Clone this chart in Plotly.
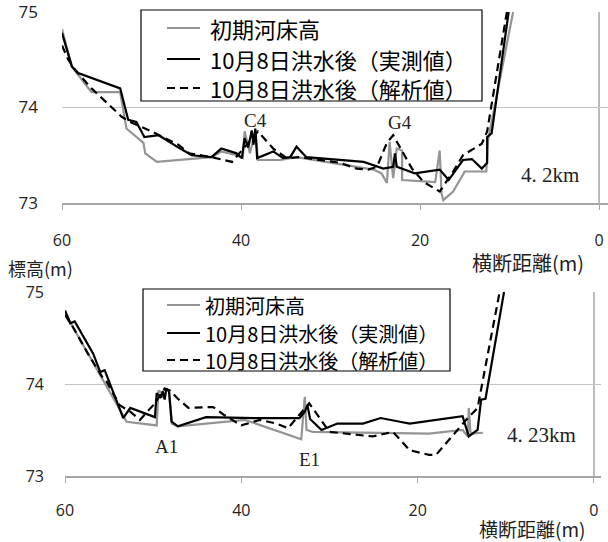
import plotly.graph_objects as go

W, H = 608, 542

# ---- series names ----
names = ["初期河床高", "10月8日洪水後（実測値）", "10月8日洪水後（解析値）"]

# ---- 4.2 km cross section ----
x42_init = [60, 58.9, 57.2, 56.7, 53.5, 52.8, 50.9, 50.7, 49.4, 43.3, 42.2, 40.5, 39.8,
            39.6, 39.0, 38.4, 38.1, 35.6, 33.8, 25.2, 24.3, 23.7, 23.4, 23.0, 22.6, 22.0,
            22.0, 18.3, 17.8, 17.6, 17.4, 16.3, 15.0, 12.6, 12.4, 9.6]
y42_init = [74.82, 74.43, 74.22, 74.16, 74.16, 73.78, 73.63, 73.52, 73.43, 73.48, 73.54, 73.50, 73.47,
            73.75, 73.52, 73.76, 73.45, 73.45, 73.48, 73.35, 73.31, 73.21, 73.64, 73.26, 73.57, 73.55,
            73.24, 73.22, 73.55, 73.10, 73.03, 73.12, 73.33, 73.33, 73.66, 75.0]

x42_meas = [60, 58.9, 58.2, 54.8, 53.5, 52.6, 51.7, 50.8, 49.2, 46.8, 45.5, 43.3, 42.2, 40.5,
            39.9, 39.6, 39.2, 38.8, 38.6, 38.4, 38.2, 36.4, 35.3, 34.5, 33.8, 32.7, 26.3, 24.1,
            23.0, 22.8, 22.6, 20.6, 17.8, 16.8, 15.2, 14.2, 13.1, 12.5, 12.5, 12.0, 10.1]
y42_meas = [74.78, 74.43, 74.36, 74.24, 74.20, 73.87, 73.85, 73.69, 73.71, 73.57, 73.50, 73.48, 73.57, 73.52,
            73.47, 73.68, 73.58, 73.76, 73.61, 73.78, 73.47, 73.54, 73.47, 73.48, 73.59, 73.48, 73.43, 73.36,
            73.38, 73.52, 73.38, 73.31, 73.35, 73.24, 73.45, 73.46, 73.36, 73.42, 73.69, 73.73, 75.0]

x42_calc = [60, 59.3, 58.5, 56.7, 53.3, 52.4, 50.0, 47.0, 45.8, 43.3, 41.0, 38.1, 36.4, 34.9,
            33.4, 28.9, 27.1, 25.8, 24.8, 23.7, 23.0, 21.9, 20.9, 19.6, 17.8, 16.3, 15.2, 13.1,
            12.5, 10.3]
y42_calc = [74.65, 74.50, 74.39, 74.20, 73.90, 73.85, 73.75, 73.61, 73.52, 73.48, 73.43, 73.75, 73.57, 73.47,
            73.48, 73.42, 73.36, 73.35, 73.38, 73.63, 73.71, 73.52, 73.36, 73.22, 73.12, 73.33, 73.50, 73.62,
            73.75, 75.0]

# ---- 4.23 km cross section ----
x423_init = [60, 53.0, 49.6, 49.4, 49.0, 48.7, 48.2, 47.9, 47.2, 39.6, 33.2, 32.8, 32.6, 31.9,
             18.7, 14.9, 14.3, 14.2, 14.0, 12.6]
y423_init = [74.77, 73.59, 73.55, 73.93, 73.90, 73.95, 73.92, 73.57, 73.54, 73.61, 73.40, 73.86, 73.50, 73.48,
             73.46, 73.50, 73.43, 73.74, 73.46, 73.47]

x423_meas = [60, 59.4, 58.9, 56.8, 56.0, 55.5, 54.2, 53.4, 52.6, 49.8, 49.6, 49.1, 48.9, 48.7,
             48.5, 48.2, 47.9, 47.2, 44.0, 38.5, 33.4, 32.8, 32.5, 32.2, 30.9, 29.1, 26.2, 24.2,
             22.0, 20.9, 14.9, 14.2, 13.2, 12.8, 12.3, 10.2]
y423_meas = [74.80, 74.66, 74.68, 74.33, 74.13, 74.15, 73.83, 73.63, 73.74, 73.64, 73.90, 73.85, 73.92, 73.83,
             73.95, 73.92, 73.59, 73.54, 73.64, 73.63, 73.63, 73.70, 73.77, 73.62, 73.50, 73.57, 73.57, 73.63,
             73.59, 73.57, 73.65, 73.43, 73.50, 73.83, 73.84, 75.0]

x423_calc = [60, 59.1, 57.4, 55.8, 55.3, 53.8, 52.6, 51.5, 49.8, 48.7, 48.1, 47.2, 46.0, 43.2,
             41.9, 40.0, 37.9, 36.0, 34.7, 33.6, 32.3, 30.0, 25.1, 22.8, 20.9, 18.7, 17.9, 14.5,
             13.2, 10.7]
y423_calc = [74.75, 74.62, 74.33, 74.08, 74.03, 73.77, 73.70, 73.61, 73.79, 73.95, 73.93, 73.84, 73.74, 73.75,
             73.66, 73.55, 73.61, 73.57, 73.52, 73.64, 73.79, 73.48, 73.43, 73.48, 73.28, 73.23, 73.23, 73.61,
             73.74, 75.0]

# ---- tick labels ----
x_ticks = [60, 40, 20, 0]
y_ticks = [73, 74, 75]

GRAY = "#949494"
BLACK = "#000000"
GRID = "#c4c4c4"
AXIS = "#a6a6a6"
CJK = "Noto Sans CJK JP"
SERIF = "Liberation Serif, DejaVu Serif, serif"
SANS = "Open Sans, DejaVu Sans, sans-serif"

styles = [dict(color=GRAY, width=2.2),
          dict(color=BLACK, width=2.2),
          dict(color=BLACK, width=2.2, dash="8px,5px")]

fig = go.Figure()

panels = [
    ("x", "y", [(x42_init, y42_init), (x42_meas, y42_meas), (x42_calc, y42_calc)]),
    ("x2", "y2", [(x423_init, y423_init), (x423_meas, y423_meas), (x423_calc, y423_calc)]),
]
for xa, ya, series in panels:
    for name, (xs, ys), st in zip(names, series, styles):
        fig.add_trace(go.Scatter(x=xs, y=ys, mode="lines", name=name, line=st,
                                 xaxis=xa, yaxis=ya, showlegend=False))


def px_x(p):
    return p / W


def px_y(p):
    return 1 - p / H


def xaxis_style(size, standoff):
    return dict(tickmode="array", tickvals=x_ticks, ticktext=[str(v) for v in x_ticks],
                showgrid=False, zeroline=False, showline=True, linecolor=AXIS, linewidth=2,
                ticks="outside", ticklen=5, tickcolor=AXIS, tickwidth=1,
                tickfont=dict(family=SANS, size=size, color="#222222"),
                ticklabelstandoff=standoff, ticklabeloverflow="allow", automargin=False)


def yaxis_style(size, standoff):
    return dict(tickmode="array", tickvals=y_ticks, ticktext=[str(v) for v in y_ticks],
                range=[73, 75], showgrid=True, gridcolor=GRID, gridwidth=1,
                zeroline=False, showline=False, ticks="",
                tickfont=dict(family=SANS, size=size, color="#222222"),
                ticklabelstandoff=standoff, ticklabeloverflow="allow", automargin=False)


fig.update_layout(
    width=W, height=H,
    margin=dict(l=0, r=0, t=0, b=0, autoexpand=False),
    paper_bgcolor="white", plot_bgcolor="white",
    showlegend=False,
    xaxis=dict(xaxis_style(16, 17), range=[60, -1.0], domain=[px_x(62), 1.0], anchor="y"),
    yaxis=dict(yaxis_style(17, 23), domain=[px_y(203), px_y(12)], anchor="x"),
    xaxis2=dict(xaxis_style(16, 14), range=[60, -0.8], domain=[px_x(65), px_x(601)], anchor="y2"),
    yaxis2=dict(yaxis_style(16, 20), domain=[px_y(476), px_y(292)], anchor="x2"),
)

# right-hand boundary line at 0 m in each panel
for xr, yr in [("x", "y"), ("x2", "y2")]:
    fig.add_shape(type="line", xref=xr, yref=yr + " domain", x0=0, x1=0, y0=0, y1=1,
                  line=dict(color=AXIS, width=1.5), layer="below")

# legend boxes (one per panel), built from shapes and text
legend_boxes = [
    # box (left, top, right, bottom), row centres, sample x-span, text x, font size
    ((141, 10, 482, 101), [28, 59, 88], (167, 200), 208, 22),
    ((143, 289, 450, 371), [305, 333, 360], (167, 200), 203, 20),
]
for (l, t, r, b), rows, (s0, s1), tx, fs in legend_boxes:
    fig.add_shape(type="rect", xref="paper", yref="paper",
                  x0=px_x(l), x1=px_x(r), y0=px_y(b), y1=px_y(t),
                  line=dict(color="black", width=1.2), fillcolor="white", layer="above")
    for name, st, ry in zip(names, styles, rows):
        fig.add_shape(type="line", xref="paper", yref="paper",
                      x0=px_x(s0), x1=px_x(s1), y0=px_y(ry), y1=px_y(ry),
                      line=st, layer="above")
        fig.add_annotation(x=px_x(tx), y=px_y(ry), xref="paper", yref="paper",
                           xanchor="left", yanchor="middle", text=name, showarrow=False,
                           font=dict(family=CJK, size=fs, color="black"))

# point labels and section names
labels = [
    ("x", "y", 38.4, 73.86, "C4", 19),
    ("x", "y", 22.2, 73.84, "G4", 19),
    ("x", "y", 5.5, 73.29, "4. 2km", 21),
    ("x2", "y2", 48.5, 73.32, "A1", 19),
    ("x2", "y2", 32.3, 73.18, "E1", 19),
    ("x2", "y2", 5.9, 73.45, "4. 23km", 21),
]
for xr, yr, xv, yv, txt, sz in labels:
    fig.add_annotation(x=xv, y=yv, xref=xr, yref=yr, text=txt, showarrow=False,
                       xanchor="center", yanchor="middle",
                       font=dict(family=SERIF, size=sz, color="#222222"))

# axis titles
for xp, yp, txt, sz in [(40, 268, "標高(m)", 18), (528, 262, "横断距離(m)", 20),
                        (532, 528, "横断距離(m)", 19)]:
    fig.add_annotation(x=px_x(xp), y=px_y(yp), xref="paper", yref="paper", text=txt,
                       xanchor="center", yanchor="middle", showarrow=False,
                       font=dict(family=CJK, size=sz, color="#222222"))

fig.write_html("out.html")
